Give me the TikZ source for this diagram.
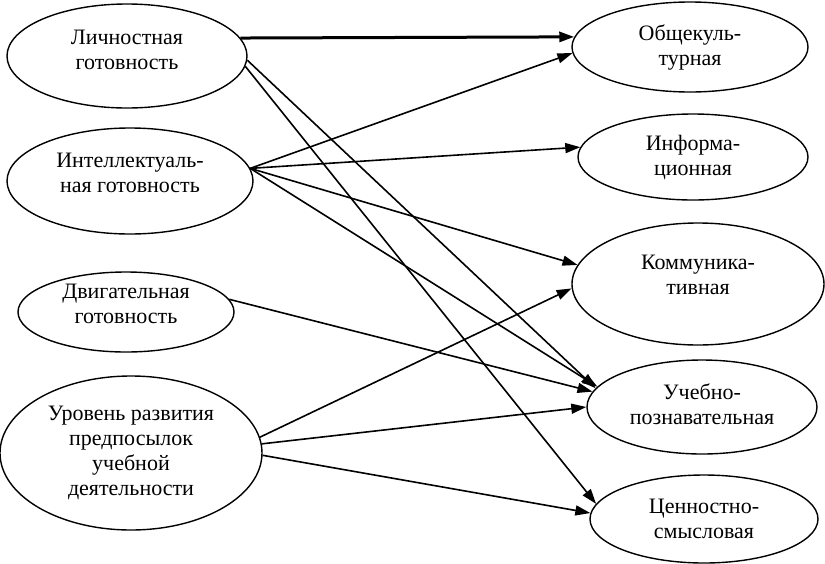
\documentclass[tikz,border=0pt]{standalone}
\usepackage{fontspec}
\setmainfont{Liberation Serif}
\usetikzlibrary{shapes.geometric,arrows.meta}
\begin{document}
\begin{tikzpicture}[x=1pt,y=-1pt,
  oval/.style={ellipse,draw,line width=1.4pt,inner sep=0pt,align=center,
    font=\fontsize{22}{25}\selectfont},
  lift/.style={execute at end node={\rule[-#1]{0pt}{0pt}}},
  link/.style={line width=1.6pt,-{Triangle[length=15pt,width=10pt]}},
  boldlink/.style={link,line width=3pt}]
\useasboundingbox (0,0) rectangle (825,563);
% left column
\node[oval,lift=12pt,minimum width=240pt,minimum height=104pt] (L1) at (127,56) {Личностная\\готовность};
\node[oval,lift=16pt,minimum width=246pt,minimum height=106pt] (L2) at (130,181) {Интеллектуаль-\\ная готовность};
\node[oval,lift=16pt,minimum width=216pt,minimum height=80pt] (L3) at (126,312) {Двигательная\\готовность};
\node[oval,minimum width=262pt,minimum height=154pt] (L4) at (131,453) {Уровень развития\\предпосылок\\учебной\\деятельности};
% right column
\node[oval,minimum width=236pt,minimum height=90pt] (R1) at (690,47) {Общекуль-\\турная};
\node[oval,minimum width=230pt,minimum height=86pt] (R2) at (693,157) {Информа-\\ционная};
\node[oval,lift=18pt,minimum width=252pt,minimum height=122pt] (R3) at (698,284) {Коммуника-\\тивная};
\node[oval,lift=6pt,minimum width=230pt,minimum height=94pt] (R4) at (702,407) {Учебно-\\познавательная};
\node[oval,minimum width=228pt,minimum height=88pt] (R5) at (704,519) {Ценностно-\\смысловая};
% connectors
\draw[boldlink] (L1.9) -- (R1.175);
\draw[link] (L1.-2) -- (R4.170);
\draw[link] (L1.-5) -- (R5.172);
\draw[link] (L2.6) -- (R1.183);
\draw[link] (L2.6) -- (R2.175);
\draw[link] (L2.6) -- (R3.171);
\draw[link] (L2.6) -- (R4.169);
\draw[link] (L3.7) -- (R4.172);
\draw[link] (L4.7) -- (R3.182);
\draw[link] (L4.4) -- (R4.180);
\draw[link] (L4.-1) -- (R5.177);
\end{tikzpicture}
\end{document}
